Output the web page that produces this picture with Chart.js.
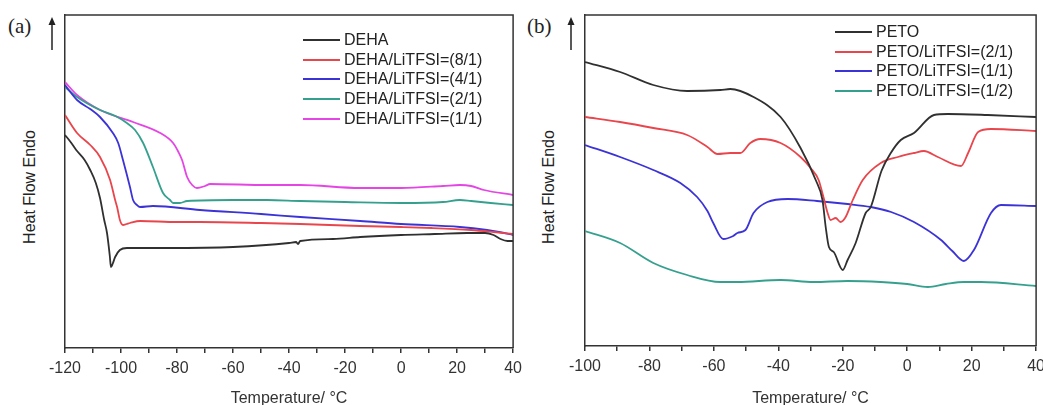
<!DOCTYPE html>
<html>
<head>
<meta charset="utf-8">
<script src="https://cdn.jsdelivr.net/npm/chart.js@4"></script>
<style>
body{margin:0;background:#fff;width:1043px;height:405px;overflow:hidden;position:relative;font-family:"Liberation Sans",Arial,sans-serif;color:#222}
.panel{position:absolute;top:0;height:405px}
.tag{position:absolute;font-family:"Liberation Serif","DejaVu Serif",serif;font-size:21px;line-height:22px}
.ylab{position:absolute;width:160px;text-align:center;font-size:16px;line-height:18px;transform:rotate(-90deg)}
.arrow{position:absolute}
.legend{position:absolute;font-size:16px}
.legend div{height:19.7px;display:flex;align-items:center;white-space:nowrap}
.legend i{display:inline-block;width:37px;border-top:2px solid;margin-right:4px}
</style>
</head>
<body>

<div class="tag" style="left:8px;top:15px">(a)</div>
<div class="tag" style="left:527px;top:15px">(b)</div>
<svg class="arrow" style="left:46px;top:16px" width="12" height="36"><line x1="6" y1="6" x2="6" y2="34" stroke="#222" stroke-width="1.5"/><path d="M2.5 9 L6 1 L9.5 9 Z" fill="#222"/></svg>
<svg class="arrow" style="left:565px;top:16px" width="12" height="36"><line x1="6" y1="6" x2="6" y2="34" stroke="#222" stroke-width="1.5"/><path d="M2.5 9 L6 1 L9.5 9 Z" fill="#222"/></svg>
<div class="ylab" style="left:-50px;top:178px">Heat Flow Endo</div>
<div class="ylab" style="left:469px;top:178px">Heat Flow Endo</div>

<div class="panel" style="left:0;width:528px"><canvas id="chartA"></canvas></div>
<div class="panel" style="left:520px;width:531px"><canvas id="chartB"></canvas></div>

<div class="legend" id="legA" style="left:303px;top:30px"></div>
<div class="legend" id="legB" style="left:835px;top:22px"></div>

<script>
// panel (a) DEHA series
const dehaT = [-120,-118,-116,-113,-111,-109,-107.5,-106,-105,-104,-103.6,-103,-102.1,-100.4,-97.9,-90,-83.6,-60,-40,-37.5,-36.8,-36,-24.3,-14.6,0,12,23.6,30,33,35.5,38,40];
const dehaV = [213,206,198,188,178,165,150,128,115,92,81,84,91,98,100,100,100,101,105,106,104,107,109,111,113,114,115,115,113,109,107,107];

const deha81T = [-120,-115.7,-111,-107.5,-103.9,-102.1,-101.4,-100.4,-99.3,-98,-96.8,-93.2,-80,-71.8,-50,-36,-14.6,0,11,25,33,40];
const deha81V = [233,215,203,191,168,148,141,128,123,124,125,127,126,126,125,124,122,121,120,118,116,114];

const deha41T = [-120,-115.7,-111,-107.5,-102.9,-101,-99.3,-96.8,-95.7,-94.3,-93.2,-88.6,-71.8,-50,-36,-14.6,0,21,30.7,35,40];
const deha41V = [263,248,239,231,215,205,188,161,148,143,141,142,138,134,131,127,124,121,118,116,113];

const deha21T = [-120,-115.7,-107.5,-102,-97.9,-95,-92.1,-88.6,-85,-82.5,-81.4,-79,-76.4,-60,-48,-36,-20,0,15,21,25,32,40];
const deha21V = [261,251,238,232,225,218,205,181,155,148,145,145,147,148,148,147,146,145,146,148,147,145,143];

const deha11T = [-120,-115.7,-107.5,-95.7,-86,-81.4,-79.5,-78.2,-76.4,-74.6,-72.9,-70,-68.2,-48,-36,-14.6,0,15,21,25,29.6,40];
const deha11V = [266,253,238,226,215,205,196,188,171,163,160,162,164,163,163,160,160,162,163,162,158,153];

// panel (b) PETO series
const petoT = [-100,-89.1,-78.8,-68.3,-58,-54.9,-47.7,-39.3,-33.1,-28.4,-26.3,-25.3,-24.3,-22.8,-20,-18.5,-16,-12.9,-11.3,-8,-5.1,-2,2.1,8.3,12.6,25,40];
const petoV = [284,274,261,255,256,257,249,229,198,166,146,119,99,94,76,86,103,133,139,175,193,206,213,231,232,231,229];

const peto21T = [-100,-89.1,-78.8,-68.3,-62,-58.9,-54.9,-51.8,-48.7,-45.6,-39.3,-33.1,-30,-27.5,-26,-24.7,-23.8,-22.2,-20.7,-19.1,-16.9,-13.8,-8.2,-2.9,2.1,5.2,9.5,16.7,18.9,22,26,40];
const peto21V = [229,224,218,211,199,192,193,193,203,207,203,189,178,166,149,133,126,128,124,129,146,166,183,189,193,195,189,180,193,214,217,215];

const peto11T = [-100,-89.1,-78.8,-70.4,-65.2,-62,-60.2,-57.1,-54,-52.7,-50.2,-47.7,-43.4,-37.1,-28,-18.5,-11.3,-5,2.1,10.5,14,17.6,20.7,26,29.1,40];
const peto11V = [201,189,176,163,149,135,123,107,110,113,116,133,144,147,145,142,139,134,124,106,95,85,96,133,141,140];

const peto12T = [-100,-89.1,-78.8,-68.3,-58,-52.7,-39.3,-29.1,-18.5,-8.2,0,6.4,12,17.6,22.9,40];
const peto12V = [115,103,83,71,64,64,66,64,65,64,62,59,62,64,64,60];

const namesA = ['DEHA','DEHA/LiTFSI=(8/1)','DEHA/LiTFSI=(4/1)','DEHA/LiTFSI=(2/1)','DEHA/LiTFSI=(1/1)'];
const namesB = ['PETO','PETO/LiTFSI=(2/1)','PETO/LiTFSI=(1/1)','PETO/LiTFSI=(1/2)'];
const colorsA = ['#303030','#e8464c','#3b33d6','#36a08e','#e445e4'];
const colorsB = ['#303030','#e8464c','#3b33d6','#36a08e'];

function pts(t, v){
    return t.map((x, i) => ({x: x, y: v[i]}));
}

function makeSets(series, names, colors){
    return series.map((s, i) => ({
        label: names[i],
        data: pts(s[0], s[1]),
        borderColor: colors[i],
        borderWidth: 1.8,
        pointRadius: 0,
        fill: false,
        cubicInterpolationMode: 'monotone'
    }));
}

const boxPlugin = {
    id: 'box',
    afterDraw(chart){
        const {ctx, chartArea: a} = chart;
        ctx.save();
        ctx.strokeStyle = '#333';
        ctx.lineWidth = 1.5;
        ctx.beginPath();
        ctx.moveTo(a.left, a.top);
        ctx.lineTo(a.right, a.top);
        ctx.lineTo(a.right, a.bottom);
        ctx.stroke();
        ctx.restore();
    }
};

function makeChart(id, datasets, xmin, xmax, ymax, axisH, padRight){
    new Chart(document.getElementById(id), {
        type: 'line',
        data: {datasets: datasets},
        plugins: [boxPlugin],
        options: {
            responsive: true,
            maintainAspectRatio: false,
            animation: false,
            layout: {padding: {left: 65, right: padRight, top: 15, bottom: 0}},
            plugins: {
                legend: {display: false},
                tooltip: {enabled: false}
            },
            scales: {
                x: {
                    type: 'linear',
                    min: xmin,
                    max: xmax,
                    afterFit: s => { s.height = axisH; },
                    ticks: {
                        stepSize: 10,
                        autoSkip: false,
                        maxRotation: 0,
                        padding: 6,
                        color: '#333',
                        font: {family: 'Liberation Sans', size: 16},
                        callback: v => (v % 20 === 0 ? v : '')
                    },
                    grid: {
                        drawOnChartArea: false,
                        drawTicks: true,
                        tickLength: 5,
                        color: '#333',
                        lineWidth: 1.5
                    },
                    border: {display: true, color: '#333', width: 1.5},
                    title: {
                        display: true,
                        text: 'Temperature/ °C',
                        color: '#333',
                        font: {family: 'Liberation Sans', size: 16},
                        padding: {top: 0, bottom: -3}
                    }
                },
                y: {
                    min: 0,
                    max: ymax,
                    afterFit: s => { s.width = 0; },
                    ticks: {display: false},
                    grid: {display: false},
                    border: {display: true, color: '#333', width: 1.5}
                }
            }
        }
    });
}

function makeLegend(id, names, colors){
    const el = document.getElementById(id);
    names.forEach((n, i) => {
        const row = document.createElement('div');
        const line = document.createElement('i');
        line.style.borderColor = colors[i];
        row.appendChild(line);
        row.appendChild(document.createTextNode(n));
        el.appendChild(row);
    });
}

makeChart('chartA', makeSets([[dehaT, dehaV], [deha81T, deha81V], [deha41T, deha41V], [deha21T, deha21V], [deha11T, deha11V]], namesA, colorsA), -120, 40, 333, 57, 7);
makeChart('chartB', makeSets([[petoT, petoV], [peto21T, peto21V], [peto11T, peto11V], [peto12T, peto12V]], namesB, colorsB), -100, 40, 331, 59, 8);
makeLegend('legA', namesA, colorsA);
makeLegend('legB', namesB, colorsB);
</script>
</body>
</html>
